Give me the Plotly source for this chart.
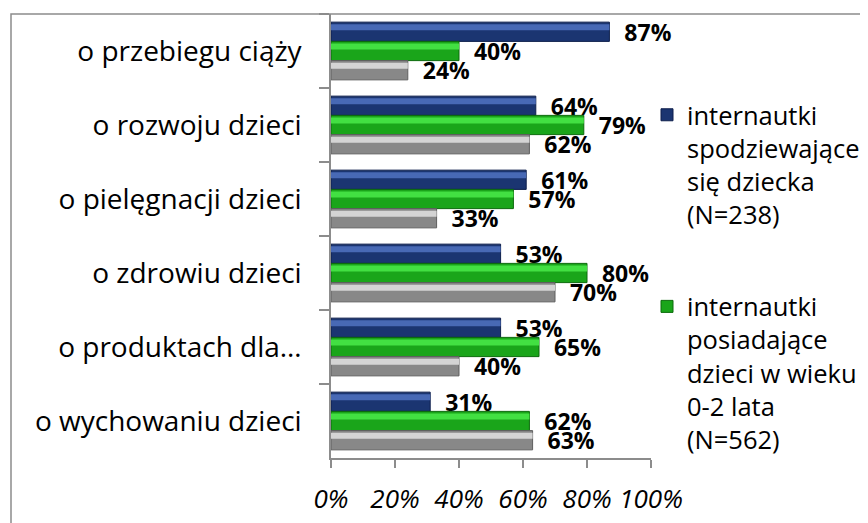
import plotly.graph_objects as go

categories = ["o przebiegu ciąży", "o rozwoju dzieci", "o pielęgnacji dzieci",
              "o zdrowiu dzieci", "o produktach dla…", "o wychowaniu dzieci"]
expecting = [0.87, 0.64, 0.61, 0.53, 0.53, 0.31]
mothers = [0.40, 0.79, 0.57, 0.80, 0.65, 0.62]
others = [0.24, 0.62, 0.33, 0.70, 0.40, 0.63]
series_names = ["internautki<br>spodziewające<br>się dziecka<br>(N=238)",
                "internautki<br>posiadające<br>dzieci w wieku<br>0-2 lata<br>(N=562)",
                "internautki ogółem"]
x_ticks = [0, 0.2, 0.4, 0.6, 0.8, 1.0]

FONT = "Open Sans"
W, H = 868, 523
OFF = 8  # page body margin compensation
PL, PR, PT, PB = 331, 651, 14, 458  # target plot-area edges in the window
L, R, T, B = PL - OFF, W - (PR - OFF), PT - OFF, H - (PB - OFF)

series = [
    (expecting, series_names[0], "#1B3571", "#4869B5", "#0E1F4C"),
    (mothers, series_names[1], "#1AA51A", "#42E042", "#0B6A0B"),
    (others, series_names[2], "#888888", "#D4D4D4", "#5E5E5E"),
]
bw = 0.26
offsets = [-0.39, -0.13, 0.13]

fig = go.Figure()
for i, (vals, name, base, hi, edge) in enumerate(series):
    fig.add_trace(go.Bar(
        y=categories, x=vals, orientation="h", name=name,
        offset=offsets[i], width=bw,
        marker=dict(color=base, line=dict(color=edge, width=1)),
        text=["\u00a0\u00a0" + f"{round(v*100)}%" for v in vals],
        textposition="outside", constraintext="none", cliponaxis=False,
        textfont=dict(family=FONT, size=23, color="black", weight="bold"),
        showlegend=(i < 2), legendgroup=f"g{i}", hoverinfo="skip",
    ))
    # glossy highlight stripe
    fig.add_trace(go.Bar(
        y=categories, x=vals, orientation="h", name=name,
        offset=offsets[i] + 0.03, width=0.08,
        marker=dict(color=hi, line=dict(width=0)),
        showlegend=False, legendgroup=f"g{i}", hoverinfo="skip",
    ))

pw = PR - PL
fig.update_layout(
    width=W, height=H,
    margin=dict(l=L, r=R, t=T, b=B, autoexpand=False),
    paper_bgcolor="white", plot_bgcolor="white",
    barmode="overlay",
    font=dict(family=FONT, color="black"),
    legend=dict(
        x=1.0 - 4 / pw, xanchor="left", y=0.825, yanchor="top",
        font=dict(family=FONT, size=25.5, color="black"),
        valign="top", traceorder="grouped", tracegroupgap=56,
        bgcolor="rgba(0,0,0,0)",
    ),
    xaxis=dict(
        range=[0, 1], tickvals=x_ticks, tickformat=".0%",
        showgrid=False, zeroline=False,
        showline=True, linecolor="#8C8C8C", linewidth=1.5,
        ticks="outside", ticklen=8, tickcolor="#8C8C8C", tickwidth=1.5,
        tickfont=dict(family=FONT, size=26, style="italic", color="black"),
        ticklabelstandoff=9,
    ),
    yaxis=dict(
        type="category", autorange="reversed",
        showgrid=False, zeroline=False,
        showline=True, linecolor="#8C8C8C", linewidth=1.5,
        ticks="outside", ticklen=10, tickcolor="#8C8C8C", tickwidth=1.5,
        tickson="boundaries",
        tickfont=dict(family=FONT, size=28, color="black"),
        ticklabelstandoff=22,
    ),
    shapes=[dict(type="rect", xref="paper", yref="paper",
                 x0=(11 - PL) / pw, x1=2.0, y0=-1.0, y1=1.0,
                 line=dict(color="#8C8C8C", width=1.5), layer="below")],
)

fig.write_html("out.html")
